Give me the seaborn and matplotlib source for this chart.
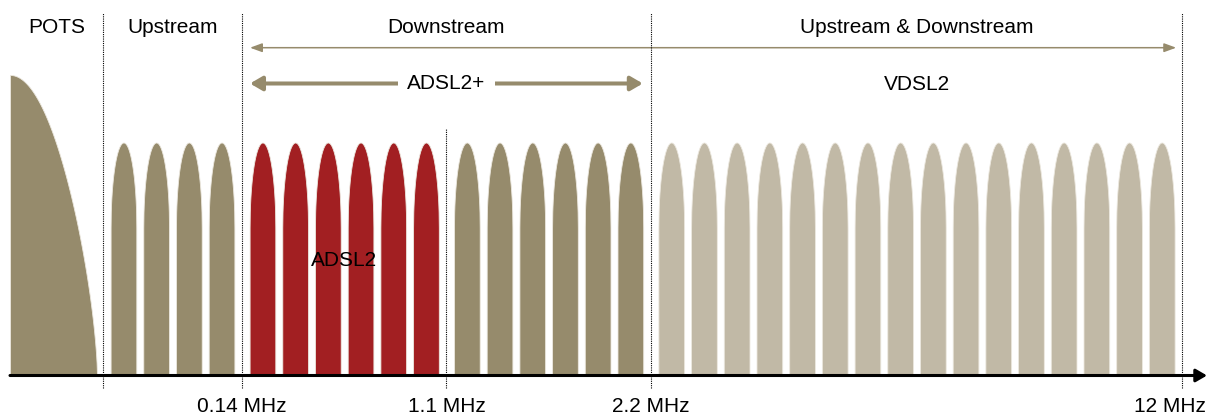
import numpy as np
import pandas as pd
import matplotlib
matplotlib.use("Agg")
import matplotlib.pyplot as plt
import seaborn as sns

# ---------------- data ----------------
pots_label = "POTS"
pots_level = 1.29                      # relative PSD of the voice band
band_names = ["Upstream", "ADSL2", "ADSL2+", "VDSL2"]
band_lobes = [4, 6, 6, 16]             # number of sub-carrier lobes drawn per band
band_levels = [1.0, 1.0, 1.0, 1.0]     # relative PSD of the lobes
band_colors = ["#968b6c", "#a21f22", "#968b6c", "#c1b9a6"]
edge_labels = ["", "0.14 MHz", "1.1 MHz", "2.2 MHz", "12 MHz"]
direction_labels = ["POTS", "Upstream", "Downstream", "Upstream & Downstream"]
span_labels = ["ADSL2+", "VDSL2"]
inner_label = "ADSL2"

# ---------------- styling / layout ----------------
sns.set_theme(style="white")
plt.rcParams["font.family"] = ["Liberation Sans", "DejaVu Sans"]
FS = 15
OLIVE = "#968b6c"
W, H = 1209, 416
BASE = 375.5          # pixel row of the frequency axis
UNIT = 233.0          # pixels per 1.0 of relative PSD
PITCH, LOBE_W, MARGIN = 32.7, 25.7, 7.6
X0, POTS_X0 = 103.0, 10.0
CAP = 0.365           # share of the lobe height taken by its rounded cap


def py(p):
    """pixel row -> data y"""
    return (BASE - p) / UNIT


fig = plt.figure(figsize=(W / 100, H / 100), dpi=100)
ax = fig.add_axes([0, 0, 1, 1])
ax.set_xlim(0, W)
ax.set_ylim(py(H), py(0))
ax.axis("off")

# band boundaries derived from lobe counts
bounds = [X0]
for n in band_lobes:
    bounds.append(bounds[-1] + 2 * MARGIN + (n - 1) * PITCH + LOBE_W)

rows = []
for i, (name, n, lvl, col) in enumerate(zip(band_names, band_lobes, band_levels, band_colors)):
    for k in range(n):
        rows.append(dict(band=name, center=bounds[i] + MARGIN + LOBE_W / 2 + k * PITCH,
                         level=lvl, color=col))
lobes = pd.DataFrame(rows)

hw = LOBE_W / 2
t = np.linspace(-1, 1, 121)
for _, r in lobes.iterrows():
    xs = r.center + t * hw
    ys = r.level * (1 - CAP) + r.level * CAP * np.sqrt(np.clip(1 - t ** 2, 0, None))
    ax.fill_between(xs, 0, ys, color=r.color, edgecolor="#ece8df", lw=0.6, zorder=2)

# POTS lobe
u = np.linspace(0, 1, 200)
pots_x = POTS_X0 + u * (bounds[0] - 6 - POTS_X0)
pots_y = pots_level * np.cos(np.pi / 2 * u) ** 0.65
ax.fill_between(pots_x, 0, pots_y, color=OLIVE, edgecolor="#ece8df", lw=0.6, zorder=2)

# frequency axis
ax.annotate("", xy=(W - 2, 0), xytext=(POTS_X0, 0),
            arrowprops=dict(arrowstyle="-|>,head_length=0.55,head_width=0.32", color="black",
                            lw=2.2, shrinkA=0, shrinkB=0, mutation_scale=12), zorder=5)

# dotted dividers
dot = dict(color="black", lw=0.8, linestyle=(0, (1, 1)), zorder=4)
for i, b in enumerate(bounds):
    top = 128 if i == 2 else 12.7
    ax.plot([b, b], [py(388), py(top)], **dot)

# direction headers
hdr_spans = [(POTS_X0, bounds[0]), (bounds[0], bounds[1]), (bounds[1], bounds[3]), (bounds[3], bounds[4])]
for lab, (a, b) in zip(direction_labels, hdr_spans):
    ax.text((a + b) / 2, py(27.5), lab, ha="center", va="center", fontsize=FS, color="black")

# Downstream / Up&Down span arrow
ax.annotate("", xy=(bounds[4] - 6, py(47.7)), xytext=(bounds[1] + 8, py(47.7)),
            arrowprops=dict(arrowstyle="<|-|>,head_length=0.6,head_width=0.22", color=OLIVE,
                            lw=1.1, shrinkA=0, shrinkB=0, mutation_scale=12), zorder=3)

# ADSL2+ span arrow with label
ax.annotate("", xy=(bounds[3] - 8, py(83.5)), xytext=(bounds[1] + 8, py(83.5)),
            arrowprops=dict(arrowstyle="<|-|>,head_length=0.6,head_width=0.35", color=OLIVE,
                            lw=2.9, shrinkA=0, shrinkB=0, mutation_scale=12), zorder=3)
ax.text((bounds[1] + bounds[3]) / 2, py(83.5), span_labels[0], ha="center", va="center",
        fontsize=FS, color="black", zorder=4,
        bbox=dict(boxstyle="square,pad=0.45", fc="white", ec="none"))
ax.text((bounds[3] + bounds[4]) / 2, py(84), span_labels[1], ha="center", va="center",
        fontsize=FS, color="black")

# ADSL2 label inside red lobes
ax.text((bounds[1] + bounds[2]) / 2, py(260), inner_label, ha="center", va="center",
        fontsize=FS, color="black", zorder=4)

# frequency labels
for i, lab in enumerate(edge_labels):
    if not lab:
        continue
    if i == len(edge_labels) - 1:
        ax.text(W - 3, py(406), lab, ha="right", va="center", fontsize=FS, color="black")
    else:
        ax.text(bounds[i], py(406), lab, ha="center", va="center", fontsize=FS, color="black")

fig.savefig("out.png", dpi=100)
